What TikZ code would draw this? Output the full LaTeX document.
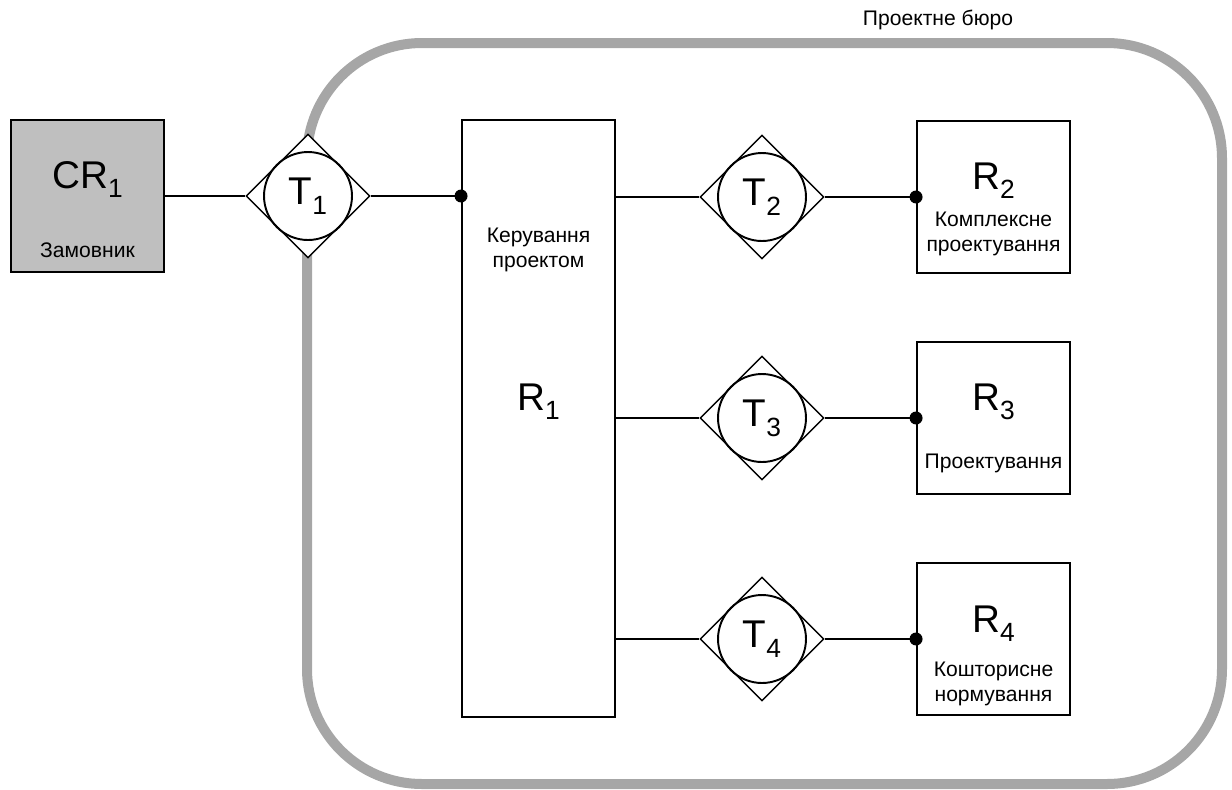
\documentclass[tikz,border=0pt]{standalone}
\usepackage{fontspec}
\setmainfont{Liberation Sans}
\usetikzlibrary{shapes.geometric,positioning}
\newcommand\sublabel[2]{#1\raisebox{-0.25em}{\fontsize{15}{15}\selectfont #2}}

\begin{document}
\begin{tikzpicture}[x=0.02cm,y=-0.02cm,line width=1.1pt,
  box node/.style={draw,rectangle,inner sep=0pt,minimum width=3.06cm,minimum height=3.04cm},
  link node/.style={diamond,draw,fill=white,line width=0.8pt,inner sep=0pt,minimum size=2.48cm},
  ring node/.style={circle,draw,inner sep=0pt,minimum size=1.76cm,font=\fontsize{22}{26}\selectfont},
  big text/.style={font=\fontsize{22}{26}\selectfont,inner sep=0pt,anchor=base},
  small text/.style={font=\fontsize{12}{14.5}\selectfont,align=center,inner sep=0pt}]
\tikzstyle{frame} = [draw=black!35,line width=0.2cm,rounded corners=2.3cm]
\tikzstyle{joint} = [circle,fill=black,inner sep=0pt,minimum size=0.26cm]

\useasboundingbox (0,0) rectangle (1232,789);

% Frame
\draw[frame] (307,43) rectangle (1222,784);
\node[small text,anchor=base] (bureau) at (938,25) {Проектне бюро};

% Customer
\node[box node,fill=black!25] (cr) at (87.5,196) {};
\node[big text] (cr name) at (87.5,188) {\sublabel{CR}{1}};
\node[small text,anchor=base] (cr text) at (87.5,257) {Замовник};

\node[link node] (t1) at (308,196) {};
\node[ring node] (t1 ring) at (t1) {\sublabel{T}{1}};

% Project management
\node[box node,minimum height=11.94cm] (r1) at (538.5,418.5) {};
\node[small text] (r1 text) at (538.5,250) {Керування\\проектом};
\node[big text] (r1 name) at (538.5,410) {\sublabel{R}{1}};

% Departments
\node[link node] (t2) at (762,197) {};
\node[ring node] (t2 ring) at (t2) {\sublabel{T}{2}};
\node[box node] (r2) at (993.5,197) {};
\node[big text] (r2 name) at (993.5,189) {\sublabel{R}{2}};
\node[small text] (r2 text) at (993.5,234) {Комплексне\\проектування};

\node[link node] (t3) at (762,418) {};
\node[ring node] (t3 ring) at (t3) {\sublabel{T}{3}};
\node[box node] (r3) at (993.5,418) {};
\node[big text] (r3 name) at (993.5,410) {\sublabel{R}{3}};
\node[small text,anchor=base] (r3 text) at (993.5,468) {Проектування};

\node[link node] (t4) at (762,639) {};
\node[ring node] (t4 ring) at (t4) {\sublabel{T}{4}};
\node[box node] (r4) at (993.5,639) {};
\node[big text] (r4 name) at (993.5,632) {\sublabel{R}{4}};
\node[small text] (r4 text) at (993.5,684) {Кошторисне\\нормування};

% Links
\draw (cr) -- (t1);
\draw (t1) -- (t1 -| r1.west);
\node[joint] (j1) at (t1 -| r1.west) {};

\draw (t2 -| r1.east) -- (t2);
\draw (t2) -- (r2);
\node[joint] (j2) at (r2.west) {};

\draw (t3 -| r1.east) -- (t3);
\draw (t3) -- (r3);
\node[joint] (j3) at (r3.west) {};

\draw (t4 -| r1.east) -- (t4);
\draw (t4) -- (r4);
\node[joint] (j4) at (r4.west) {};

\end{tikzpicture}
\end{document}
